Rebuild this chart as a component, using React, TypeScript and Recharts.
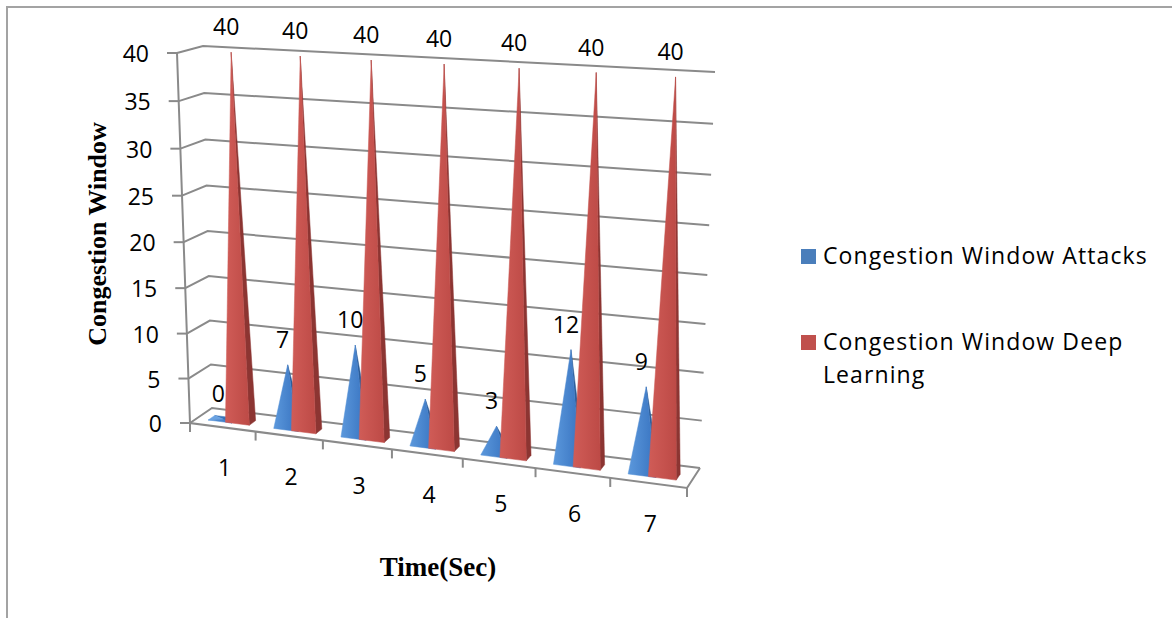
import { BarChart, Bar, XAxis, YAxis, CartesianGrid, Legend, LabelList, Customized } from "recharts";

const categories = ["1", "2", "3", "4", "5", "6", "7"];
const attacks = [0, 7, 10, 5, 3, 12, 9];
const deepLearning = [40, 40, 40, 40, 40, 40, 40];
const yTicks = [0, 5, 10, 15, 20, 25, 30, 35, 40];

const data = categories.map((t, i) => ({ time: t, attacks: attacks[i], deep: deepLearning[i] }));

const W = 1172;
const H = 618;
// flat plot box recharts lays out; it is then projected into the 3D view
const PL = 200;
const PT = 50;
const PW = 500;
const PH = 400;
const Y_AXIS_W = 40;
const X_AXIS_H = 30;
const margin = { left: PL - Y_AXIS_W, top: PT, right: W - PL - PW, bottom: H - PT - PH - X_AXIS_H };

const SANS = "'Open Sans', sans-serif";
const SERIF = "'Liberation Serif', 'Times New Roman', serif";
const GRID = "#8a8a8a";

type Pt = [number, number];

// unit square -> quad (bl, br, tr, tl)
function squareToQuad(p0: Pt, p1: Pt, p2: Pt, p3: Pt) {
  const [x0, y0] = p0, [x1, y1] = p1, [x2, y2] = p2, [x3, y3] = p3;
  const dx1 = x1 - x2, dx2 = x3 - x2, dy1 = y1 - y2, dy2 = y3 - y2;
  const sx = x0 - x1 + x2 - x3, sy = y0 - y1 + y2 - y3;
  const den = dx1 * dy2 - dx2 * dy1;
  const g = (sx * dy2 - dx2 * sy) / den;
  const h = (dx1 * sy - sx * dy1) / den;
  const a = x1 - x0 + g * x1, b = x3 - x0 + h * x3, c = x0;
  const d = y1 - y0 + g * y1, e = y3 - y0 + h * y3, f = y0;
  return (u: number, v: number): Pt => {
    const w = g * u + h * v + 1;
    return [(a * u + b * v + c) / w, (d * u + e * v + f) / w];
  };
}

const frontPlane = squareToQuad([190, 423], [687, 488], [698, 84], [177, 53]);
const backPlane = squareToQuad([212, 408], [700, 468], [715, 72], [203, 46]);

function proj(u: number, w: number, d: number): Pt {
  const f = frontPlane(u, w);
  const b = backPlane(u, w);
  return [f[0] + (b[0] - f[0]) * d, f[1] + (b[1] - f[1]) * d];
}

const toU = (x: number) => (x - PL) / PW;
const toW = (y: number) => (PT + PH - y) / PH;

const D0 = 0.3;
const D1 = 0.6;
const DC = 0.45;

const pts = (arr: Pt[]) => arr.map((p) => `${p[0].toFixed(2)},${p[1].toFixed(2)}`).join(" ");
const area = (arr: Pt[]) => {
  let s = 0;
  for (let i = 0; i < arr.length; i++) {
    const a = arr[i], b = arr[(i + 1) % arr.length];
    s += a[0] * b[1] - b[0] * a[1];
  }
  return s;
};

function makePyramid(front: string, right: string, left: string, backC: string) {
  return (props: any) => {
    const { x, y, width } = props;
    if (x == null || width == null) return <g />;
    const u0 = toU(x), u1 = toU(x + width), uc = (u0 + u1) / 2;
    const top = toW(y);
    const FL = proj(u0, 0, D0), FR = proj(u1, 0, D0);
    const BR = proj(u1, 0, D1), BL = proj(u0, 0, D1);
    const A = proj(uc, top, DC);
    const faces: [Pt[], string][] = [
      [[BR, BL, A], backC],
      [[BL, FL, A], left],
      [[FR, BR, A], right],
      [[FL, FR, A], front],
    ];
    return (
      <g>
        {faces
          .filter(([f]) => area(f) < 0)
          .map(([f, c], i) => (
            <polygon key={i} points={pts(f)} fill={c} stroke={c} strokeWidth={0.5} strokeLinejoin="round" />
          ))}
      </g>
    );
  };
}

const bluePyramid = makePyramid("url(#gradBlue)", "#2b5c99", "#6aa2e2", "#3a73b8");
const redPyramid = makePyramid("url(#gradRed)", "#8c3532", "#d9706b", "#a8423f");

function Frame() {
  const a = frontPlane(0, 0), b = frontPlane(0, 1), c = frontPlane(1, 0), d = backPlane(1, 0);
  return (
    <g>
      <defs>
        <linearGradient id="gradBlue" x1="0" y1="0" x2="1" y2="0">
          <stop offset="0" stopColor="#5b98dc" />
          <stop offset="1" stopColor="#3873c0" />
        </linearGradient>
        <linearGradient id="gradRed" x1="0" y1="0" x2="1" y2="0">
          <stop offset="0" stopColor="#d05c57" />
          <stop offset="1" stopColor="#bd4a46" />
        </linearGradient>
      </defs>
      <polyline points={pts([b, a, c, d])} fill="none" stroke={GRID} strokeWidth={2} />
      <text
        x={106}
        y={234}
        transform="rotate(-90, 106, 234)"
        textAnchor="middle"
        fontFamily={SERIF}
        fontWeight="bold"
        fontSize={26}
        fill="#000"
      >
        Congestion Window
      </text>
      <text x={438} y={576} textAnchor="middle" fontFamily={SERIF} fontWeight="bold" fontSize={27} fill="#000">
        Time(Sec)
      </text>
    </g>
  );
}

const gridLine = (props: any) => {
  const w = toW(props.y1);
  const f = frontPlane(0, w), b0 = backPlane(0, w), b1 = backPlane(1, w);
  return <polyline key={`g-${props.index}`} points={pts([f, b0, b1])} fill="none" stroke={GRID} strokeWidth={2} />;
};

const YTick = (props: any) => {
  const { y, payload } = props;
  const f = frontPlane(0, toW(y));
  return (
    <g>
      <line x1={f[0] - 10} y1={f[1]} x2={f[0]} y2={f[1]} stroke={GRID} strokeWidth={2} />
      <text x={f[0] - 28} y={f[1]} textAnchor="end" dominantBaseline="central" fontFamily={SANS} fontSize={23} fill="#000">
        {payload.value}
      </text>
    </g>
  );
};

const XTick = (props: any) => {
  const { x, payload, index } = props;
  const u = toU(x);
  const half = 0.5 / categories.length;
  const bounds = index === 0 ? [u - half, u + half] : [u + half];
  const c = frontPlane(u, 0);
  return (
    <g>
      {bounds.map((ub, i) => {
        const p = frontPlane(ub, 0);
        return <line key={i} x1={p[0]} y1={p[1]} x2={p[0]} y2={p[1] + 9} stroke={GRID} strokeWidth={2} />;
      })}
      <text x={c[0] + 2} y={c[1] + 40} textAnchor="middle" dominantBaseline="central" fontFamily={SANS} fontSize={23} fill="#000">
        {payload.value}
      </text>
    </g>
  );
};

const renderLabel = (props: any) => {
  const { x, y, width, value } = props;
  const p = proj(toU(x + width / 2), toW(y), DC);
  return (
    <text x={p[0] - 5} y={p[1] - 26} textAnchor="middle" dominantBaseline="central" fontFamily={SANS} fontSize={23} fill="#000">
      {value}
    </text>
  );
};

const LegendContent = (props: any) => {
  const items = props.payload || [];
  const tops = [0, 86];
  return (
    <div style={{ position: "relative", width: 368, height: 160, fontFamily: SANS, fontSize: 23, lineHeight: "33px", color: "#000" }}>
      {items.map((it: any, i: number) => (
        <div key={i} style={{ position: "absolute", left: 0, top: tops[i], width: 368 }}>
          <span style={{ position: "absolute", left: 0, top: 10, width: 15, height: 15, background: it.color }} />
          <div style={{ marginLeft: 22, width: 345, letterSpacing: 1.1 }}>{it.value}</div>
        </div>
      ))}
    </div>
  );
};

export default function App() {
  return (
    <>
      <div
        style={{
          position: "absolute",
          left: 6,
          top: 6,
          width: W - 6,
          height: H - 6,
          boxSizing: "border-box",
          borderLeft: "2px solid #a3a3a3",
          borderTop: "2px solid #a3a3a3",
          background: "#fff",
        }}
      />
      <div style={{ position: "absolute", left: 0, top: 0, width: W, height: H }}>
        <BarChart width={W} height={H} data={data} margin={margin} barCategoryGap="18%" barGap={-7}>
          <Customized component={Frame} />
          <CartesianGrid vertical={false} horizontal={gridLine} />
          <XAxis dataKey="time" height={X_AXIS_H} axisLine={false} tickLine={false} interval={0} tick={XTick} />
          <YAxis
            domain={[0, 40]}
            ticks={yTicks}
            width={Y_AXIS_W}
            axisLine={false}
            tickLine={false}
            interval={0}
            tick={YTick}
          />
          <Bar dataKey="attacks" name="Congestion Window Attacks" fill="#4a7ebb" shape={bluePyramid} isAnimationActive={false}>
            <LabelList dataKey="attacks" content={renderLabel} />
          </Bar>
          <Bar dataKey="deep" name="Congestion Window Deep Learning" fill="#c0504d" shape={redPyramid} isAnimationActive={false}>
            <LabelList dataKey="deep" content={renderLabel} />
          </Bar>
          <Legend
            layout="horizontal"
            verticalAlign="middle"
            align="center"
            wrapperStyle={{ left: 801, top: 239, width: 368, height: 160 }}
            content={LegendContent}
          />
        </BarChart>
      </div>
    </>
  );
}
